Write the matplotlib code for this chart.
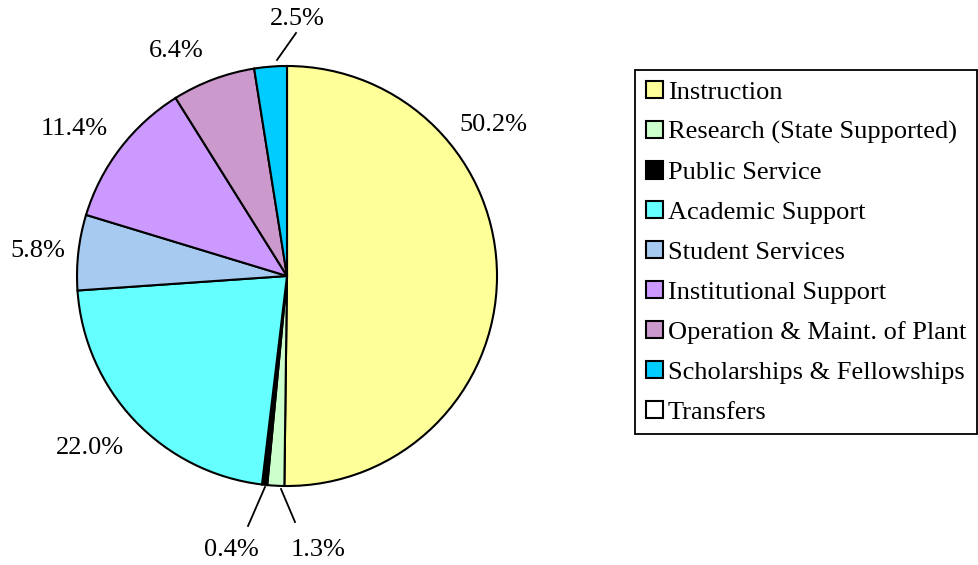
import matplotlib
matplotlib.use("Agg")
import matplotlib.pyplot as plt
from matplotlib.patches import Patch

categories = ["Instruction", "Research (State Supported)", "Public Service",
              "Academic Support", "Student Services", "Institutional Support",
              "Operation & Maint. of Plant", "Scholarships & Fellowships", "Transfers"]
values = [50.2, 1.3, 0.4, 22.0, 5.8, 11.4, 6.4, 2.5, 0.0]
colors = ["#FFFF99", "#CCFFCC", "#000000", "#66FFFF", "#A6CAF0",
          "#CC99FF", "#CC99CC", "#00CCFF", "#FFFFFF"]
labels = ["50.2%", "1.3%", "0.4%", "22.0%", "5.8%", "11.4%", "6.4%", "2.5%", ""]

# layout: label centres in pixels and leader lines (pixel coords)
W, H = 979, 565
CX, CY, R = 287, 276, 210
label_px = [(493, 125), (318, 550), (231, 550), (90, 448), (38, 251),
            (74, 129), (176, 51), (297, 19), None]
leaders = {1: ((281, 489), (295, 522)), 2: ((265, 487), (248, 526)),
           7: ((277, 60), (296, 33))}
FS = 19

plt.rcParams['font.family'] = ['Liberation Serif', 'DejaVu Serif']

fig = plt.figure(figsize=(W / 100, H / 100), dpi=100)
ax = fig.add_axes([(CX - R) / W, (H - CY - R) / H, 2 * R / W, 2 * R / H])

pv = [v for v in values if v > 0]
pc = [c for v, c in zip(values, colors) if v > 0]
ax.pie(pv, colors=pc, startangle=90, counterclock=False, radius=1,
       wedgeprops=dict(edgecolor='black', linewidth=1.5))
ax.set_xlim(-1, 1)
ax.set_ylim(-1, 1)
ax.axis('off')

def to_data(p):
    return ((p[0] - CX) / R, (CY - p[1]) / R)

for i, lab in enumerate(labels):
    if label_px[i] is None:
        continue
    x, y = to_data(label_px[i])
    ax.text(x, y, lab, ha='center', va='center', fontsize=FS, clip_on=False)
for i, (a, b) in leaders.items():
    (x1, y1), (x2, y2) = to_data(a), to_data(b)
    ax.plot([x1, x2], [y1, y2], color='black', lw=1.3, clip_on=False)

handles = [Patch(facecolor=c, edgecolor='black', linewidth=1.5) for c in colors]
leg = fig.legend(handles, categories, loc='upper left',
                 bbox_to_anchor=(635 / W, 1 - 70 / H), borderaxespad=0,
                 fontsize=FS, frameon=True, fancybox=False, framealpha=1,
                 edgecolor='black', handlelength=0.65, handleheight=0.65,
                 handletextpad=0.2, labelspacing=0.64, borderpad=0.4)
leg.get_frame().set_linewidth(1.3)

fig.savefig("out.png", dpi=100)
